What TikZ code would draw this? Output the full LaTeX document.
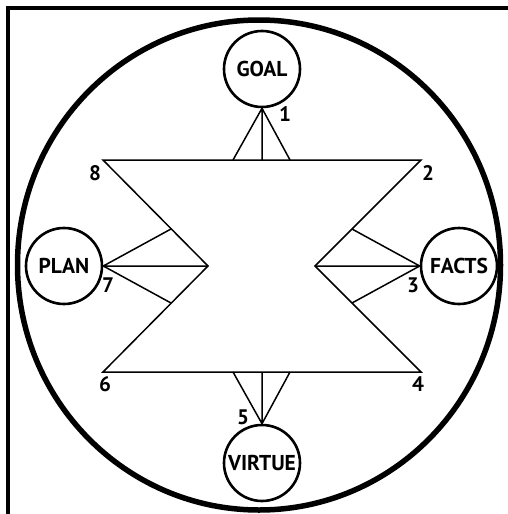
\documentclass[tikz,border=0pt]{standalone}
\usepackage{fontspec}
\setmainfont{PT Sans}
\begin{document}
\begin{tikzpicture}[x=1pt,y=-1pt,
  thinline/.style={line width=1.5pt,line join=miter},
  station/.style={circle,draw,line width=2.6pt,inner sep=0pt,minimum size=76pt,
    font=\bfseries\fontsize{21.5}{21.5}\selectfont},
  num/.style={inner sep=0pt,font=\bfseries\fontsize{21}{21}\selectfont}]
\useasboundingbox (0,0) rectangle (508,514);
% outer frame (left and top edges)
\draw[line width=4pt] (8,516) -- (8,8) -- (510,8);
% enclosing ring
\draw[line width=5.5pt] (259,265) ellipse [x radius=241.5, y radius=245];

% hourglass outline
\coordinate (v8) at (103,160);
\coordinate (v2) at (421,160);
\coordinate (vR) at (315,266);
\coordinate (v4) at (421,372);
\coordinate (v6) at (103,372);
\coordinate (vL) at (208,266);
\draw[thinline] (v8) -- (v2) -- (vR) -- (v4) -- (v6) -- (vL) -- cycle;

% stations
\node[station] (goal) at (262,69) {GOAL};
\node[station] (facts) at (459,266) {FACTS};
\node[station] (virtue) at (262,463) {VIRTUE};
\node[station] (plan) at (64,266) {PLAN};

% contact points on the outline
\coordinate (gA) at (233,160);
\coordinate (gB) at (262,160);
\coordinate (gC) at (290,160);
\coordinate (fA) at (352,229);
\coordinate (fC) at (352,303);
\coordinate (vA) at (233,372);
\coordinate (vB) at (262,372);
\coordinate (vC) at (290,372);
\coordinate (pA) at (171,229);
\coordinate (pC) at (171,303);

% fans from each station
\draw[thinline] (gA) -- (goal.south) -- (gC) (goal.south) -- (gB);
\draw[thinline] (fA) -- (facts.west) -- (fC) (facts.west) -- (vR);
\draw[thinline] (vA) -- (virtue.north) -- (vC) (virtue.north) -- (vB);
\draw[thinline] (pA) -- (plan.east) -- (pC) (plan.east) -- (vL);

% numbering
\node[num] (n1) at (285,114) {1};
\node[num] (n2) at (428,173) {2};
\node[num] (n3) at (413,285) {3};
\node[num] (n4) at (418,384) {4};
\node[num] (n5) at (243,417) {5};
\node[num] (n6) at (105,384) {6};
\node[num] (n7) at (108,285) {7};
\node[num] (n8) at (95,173) {8};
\end{tikzpicture}
\end{document}
